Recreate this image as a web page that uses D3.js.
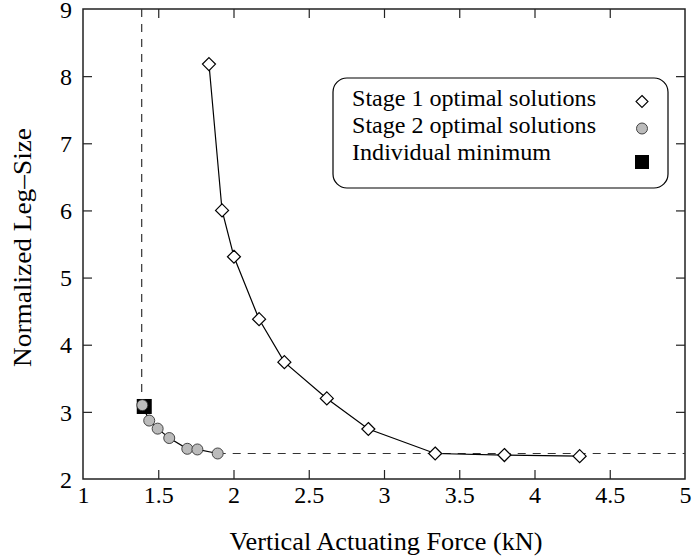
<!DOCTYPE html>
<html>
<head>
<meta charset="utf-8">
<script src="https://cdn.jsdelivr.net/npm/d3@7"></script>
<style>
  body { margin: 0; background: #fff; }
  svg { display: block; }
</style>
</head>
<body>
<svg id="chart" width="696" height="557"></svg>
<script>
// ---- data ----
const stage1Force = [1.837, 1.924, 2.003, 2.17, 2.338, 2.62, 2.896, 3.34, 3.80, 4.30];
const stage1Size  = [8.18, 6.00, 5.31, 4.38, 3.74, 3.20, 2.745, 2.38, 2.357, 2.34];
const stage2Force = [1.394, 1.44, 1.496, 1.573, 1.693, 1.76, 1.895];
const stage2Size  = [3.10, 2.87, 2.75, 2.61, 2.45, 2.44, 2.38];
const minForce = [1.407];
const minSize  = [3.08];
const refForce = 1.39;   // individual minimum of force (vertical dashed line)
const refSize  = 2.38;   // individual minimum of leg size (horizontal dashed line)
const xTicks = [1, 1.5, 2, 2.5, 3, 3.5, 4, 4.5, 5];
const yTicks = [2, 3, 4, 5, 6, 7, 8, 9];
const legendLabels = ["Stage 1 optimal solutions", "Stage 2 optimal solutions", "Individual minimum"];

// ---- layout ----
const FONT = '"Liberation Serif"';
const svg = d3.select("#chart");
const L = 83, R = 685, T = 9, B = 479;
const x = d3.scaleLinear().domain([1, 5]).range([L, R]);
const y = d3.scaleLinear().domain([2, 9]).range([B, T]);
const axisColor = "#222";
const fs = 24;

// frame
svg.append("rect").attr("x", L).attr("y", T).attr("width", R - L).attr("height", B - T)
  .attr("fill", "none").attr("stroke", axisColor).attr("stroke-width", 1.5);

// ticks (inward on all four sides)
const tl = 9;
const axB = d3.axisBottom(x).tickValues(xTicks).tickSize(-tl).tickFormat(d3.format("")).tickPadding(7);
const gB = svg.append("g").attr("transform", `translate(0,${B})`).call(axB);
const axT = d3.axisTop(x).tickValues(xTicks).tickSize(-tl).tickFormat("");
const gT = svg.append("g").attr("transform", `translate(0,${T})`).call(axT);
const axL = d3.axisLeft(y).tickValues(yTicks).tickSize(-tl).tickFormat(d3.format("")).tickPadding(11);
const gL = svg.append("g").attr("transform", `translate(${L},0)`).call(axL);
const axR = d3.axisRight(y).tickValues(yTicks).tickSize(-tl).tickFormat("");
const gR = svg.append("g").attr("transform", `translate(${R},0)`).call(axR);
[gB, gT, gL, gR].forEach(g => {
  g.attr("font-family", null);
  g.select(".domain").remove();
  g.selectAll(".tick line").attr("stroke", axisColor).attr("stroke-width", 1.2);
  g.selectAll("text").style("font-family", FONT).style("font-size", fs + "px").attr("fill", "#000");
});
gL.selectAll("text").attr("dy", "0.34em");
// drop first/last ticks that coincide with frame
gB.selectAll(".tick line").filter(d => d === 1 || d === 5).remove();
gT.selectAll(".tick line").filter(d => d === 1 || d === 5).remove();
gL.selectAll(".tick line").filter(d => d === 2 || d === 9).remove();
gR.selectAll(".tick line").filter(d => d === 2 || d === 9).remove();

// axis titles
svg.append("text").attr("x", 386).attr("y", 550).attr("text-anchor", "middle")
  .style("font-family", FONT).style("font-size", "25px")
  .attr("textLength", 313).attr("lengthAdjust", "spacingAndGlyphs")
  .text("Vertical Actuating Force (kN)");
svg.append("text").attr("transform", `translate(31,247.5) rotate(-90)`).attr("text-anchor", "middle")
  .style("font-family", FONT).style("font-size", "25px")
  .attr("textLength", 239).attr("lengthAdjust", "spacingAndGlyphs")
  .text("Normalized Leg–Size");

// dashed reference lines
svg.append("line").attr("x1", x(refForce)).attr("x2", x(refForce)).attr("y1", y(9)).attr("y2", y(minSize[0]))
  .attr("stroke", "#333").attr("stroke-width", 1.2).attr("stroke-dasharray", "8,7");
svg.append("line").attr("x1", x(stage2Force[stage2Force.length - 1])).attr("x2", x(5)).attr("y1", y(refSize)).attr("y2", y(refSize))
  .attr("stroke", "#333").attr("stroke-width", 1.2).attr("stroke-dasharray", "8,7");

// lines
const s1 = stage1Force.map((f, i) => [f, stage1Size[i]]);
const s2 = stage2Force.map((f, i) => [f, stage2Size[i]]);
const line = d3.line().x(d => x(d[0])).y(d => y(d[1]));
svg.append("path").attr("d", line(s1)).attr("fill", "none").attr("stroke", "#000").attr("stroke-width", 1.2);
svg.append("path").attr("d", line(s2)).attr("fill", "none").attr("stroke", "#000").attr("stroke-width", 1.2);

// markers
const diamond = (cx, cy, r) => `M${cx},${cy - r}L${cx + r},${cy}L${cx},${cy + r}L${cx - r},${cy}Z`;
const sq = 15;
svg.selectAll(".minsq").data(minForce.map((f, i) => [f, minSize[i]])).join("rect")
  .attr("x", d => x(d[0]) - sq / 2).attr("y", d => y(d[1]) - sq / 2).attr("width", sq).attr("height", sq).attr("fill", "#000");
svg.selectAll(".s1").data(s1).join("path")
  .attr("d", d => diamond(x(d[0]), y(d[1]), 6.5)).attr("fill", "#fff").attr("stroke", "#000").attr("stroke-width", 1.2);
svg.selectAll(".s2").data(s2).join("circle")
  .attr("cx", d => x(d[0])).attr("cy", d => y(d[1])).attr("r", 5.5)
  .attr("fill", "#bbb").attr("stroke", "#333").attr("stroke-width", 0.9);

// legend
const lg = svg.append("g");
lg.append("rect").attr("x", 333).attr("y", 78).attr("width", 335).attr("height", 110).attr("rx", 14).attr("ry", 14)
  .attr("fill", "#fff").attr("stroke", "#000").attr("stroke-width", 1.2);
const rows = [106, 133, 160];
const lens = [244, 244, 199];
legendLabels.forEach((t, i) => {
  lg.append("text").attr("x", 352).attr("y", rows[i])
    .style("font-family", FONT).style("font-size", fs + "px")
    .attr("textLength", lens[i]).attr("lengthAdjust", "spacingAndGlyphs").text(t);
});
const mx = 642;
lg.append("path").attr("d", diamond(mx, 101.5, 6)).attr("fill", "#fff").attr("stroke", "#000").attr("stroke-width", 1.1);
lg.append("circle").attr("cx", mx).attr("cy", 128.5).attr("r", 5.5).attr("fill", "#bbb").attr("stroke", "#333").attr("stroke-width", 0.9);
lg.append("rect").attr("x", mx - 7).attr("y", 155).attr("width", 14).attr("height", 14).attr("fill", "#000");
</script>
</body>
</html>
